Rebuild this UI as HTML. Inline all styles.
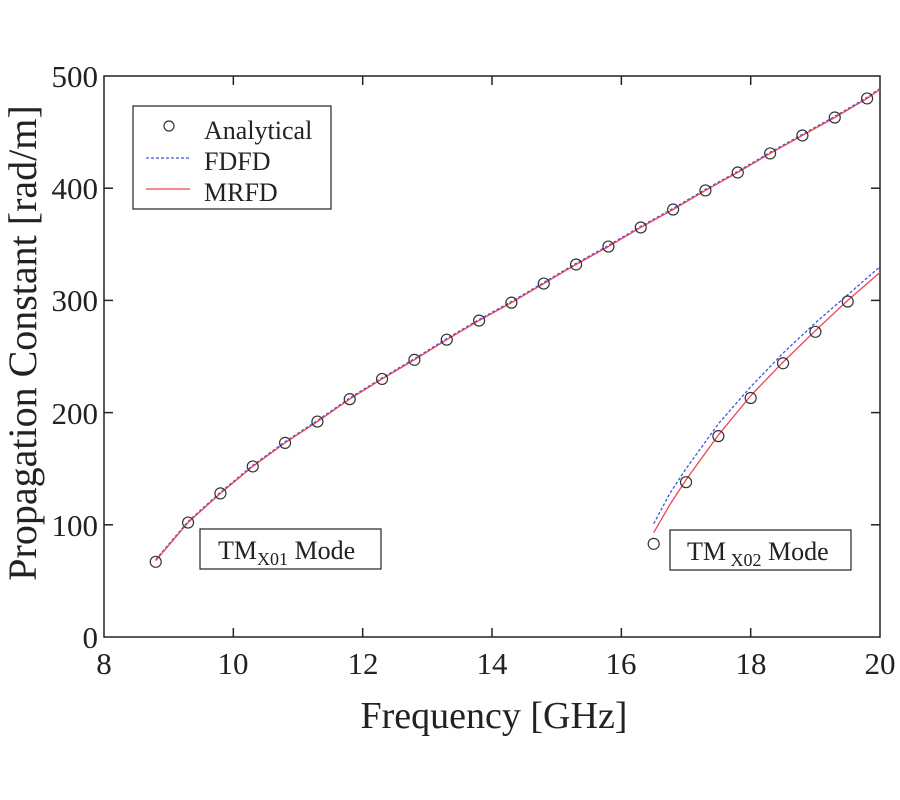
<!DOCTYPE html>
<html><head><style>
html,body{margin:0;padding:0;background:#fff;}
svg{display:block;font-family:"Liberation Serif",serif;}
</style></head><body>
<svg id="s" width="900" height="800" viewBox="0 0 900 800" xmlns="http://www.w3.org/2000/svg">
<rect x="104" y="76" width="776" height="561" fill="none" stroke="#222" stroke-width="1.5"/>
<g id="ticks" stroke="#222" stroke-width="1.5"></g>
<g font-size="31" fill="#222" text-anchor="middle">
<text x="104" y="674">8</text><text x="233" y="674">10</text><text x="363" y="674">12</text><text x="492" y="674">14</text><text x="621" y="674">16</text><text x="751" y="674">18</text><text x="880" y="674">20</text>
</g>
<g font-size="31" fill="#222" text-anchor="end">
<text x="98" y="648">0</text><text x="98" y="536">100</text><text x="98" y="424">200</text><text x="98" y="311">300</text><text x="98" y="199">400</text><text x="98" y="87">500</text>
</g>
<text x="494" y="728" font-size="38" fill="#222" text-anchor="middle">Frequency [GHz]</text>
<text transform="translate(36,343) rotate(-90)" font-size="40" fill="#222" text-anchor="middle">Propagation Constant [rad/m]</text>
<g id="curves" fill="none"></g>
<rect x="133" y="106" width="198" height="103" fill="#fff" stroke="#222" stroke-width="1.2"/>
<circle cx="169" cy="126" r="5" fill="none" stroke="#333" stroke-width="1.2"/>
<line x1="146" y1="158" x2="190" y2="158" stroke="#4455dd" stroke-width="1.3" stroke-dasharray="3,2"/>
<line x1="146" y1="189" x2="190" y2="189" stroke="#ee4455" stroke-width="1.3"/>
<g font-size="26" fill="#222"><text x="204" y="139">Analytical</text><text x="204" y="170">FDFD</text><text x="204" y="201">MRFD</text></g>
<rect x="200" y="529" width="181" height="40" fill="#fff" stroke="#222" stroke-width="1.2"/>
<text x="218" y="559" font-size="26" fill="#222">TM<tspan font-size="18" dy="6">X01</tspan><tspan dy="-6"> Mode</tspan></text>
<rect x="670" y="530" width="181" height="40" fill="#fff" stroke="#222" stroke-width="1.2"/>
<text x="687" y="560" font-size="26" fill="#222">TM<tspan font-size="18" dy="6"> X02</tspan><tspan dy="-6"> Mode</tspan></text>
</svg>
<script>
var X=f=>104+(f-8)*64.67, Y=v=>637-v*1.122;
var ns="http://www.w3.org/2000/svg",s=document.getElementById('s'),c=document.getElementById('curves'),t=document.getElementById('ticks');
function el(p,n,a){var e=document.createElementNS(ns,n);for(var k in a)e.setAttribute(k,a[k]);p.appendChild(e);return e;}
for(var f=10;f<20;f+=2){el(t,'line',{x1:X(f),x2:X(f),y1:637,y2:628});el(t,'line',{x1:X(f),x2:X(f),y1:76,y2:85});}
for(var v=100;v<500;v+=100){el(t,'line',{x1:104,x2:113,y1:Y(v),y2:Y(v)});el(t,'line',{x1:880,x2:871,y1:Y(v),y2:Y(v)});}
var m1=[67,102,128,152,173,192,212,230,247,265,282,298,315,332,348,365,381,398,414,431,447,463,480];
var p1=[[8.8,68]];for(var i=1;i<m1.length;i++)p1.push([8.8+0.5*i,m1[i]]);p1.push([20,488]);
function pl(p,col,dash){var a={points:p.map(q=>X(q[0])+','+Y(q[1])).join(' '),stroke:col,'stroke-width':1.3};if(dash)a['stroke-dasharray']='3,2';el(c,'polyline',a);}
pl(p1.map(q=>[q[0],q[1]+1]),'#4455dd',1);pl(p1,'#ee4455');
pl([[16.5,101],[16.75,128],[17,150],[17.5,190],[18,223],[18.5,253],[19,280],[19.5,305],[20,330]],'#4455dd',1);
pl([[16.5,93],[16.75,118],[17,140],[17.5,180],[18,215],[18.5,245],[19,273],[19.5,300],[20,325]],'#ee4455');
m1.forEach((v,i)=>el(c,'circle',{cx:X(8.8+0.5*i),cy:Y(v),r:5.5,stroke:'#333','stroke-width':1.2}));
[83,138,179,213,244,272,299].forEach((v,i)=>el(c,'circle',{cx:X(16.5+0.5*i),cy:Y(v),r:5.5,stroke:'#333','stroke-width':1.2}));
</script>
</body></html>
